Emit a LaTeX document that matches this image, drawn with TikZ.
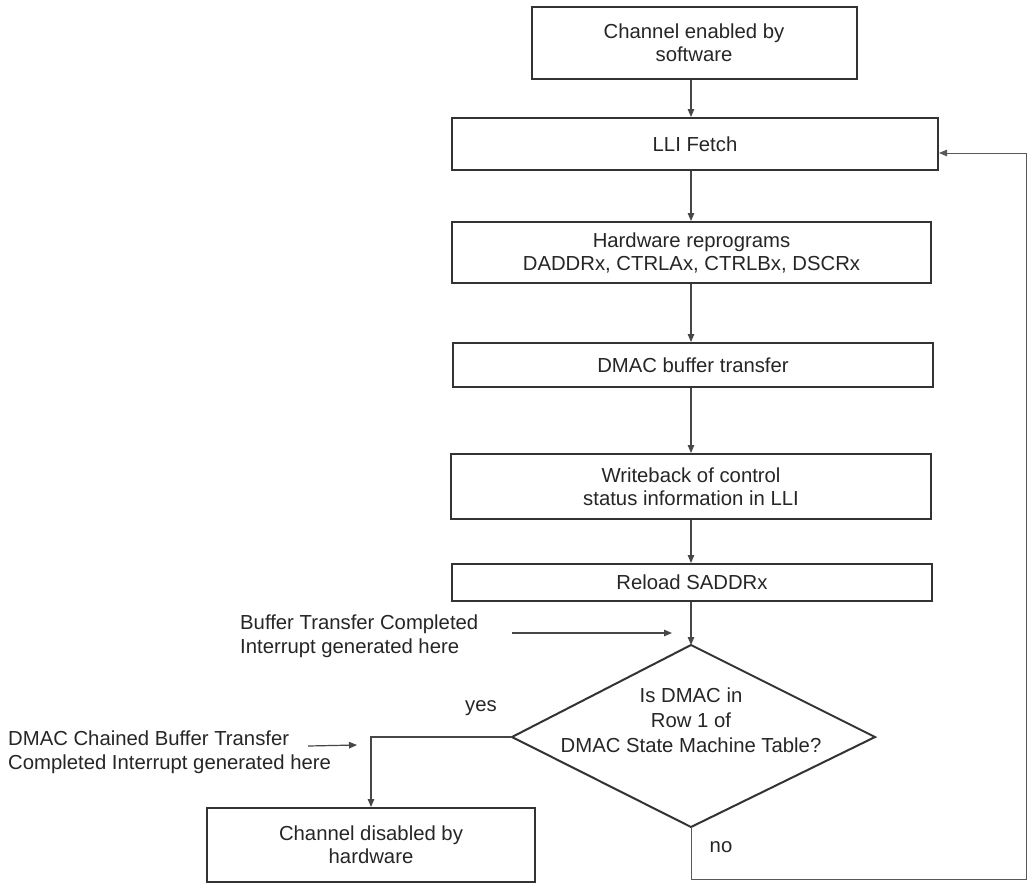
\documentclass[tikz,border=0pt]{standalone}
\usepackage{fontspec}
\setmainfont{Liberation Sans}
\usetikzlibrary{arrows.meta}
\begin{document}
\begin{tikzpicture}[x=1pt,y=-1pt,
  box/.style={draw=black!80, line width=2pt, align=center, inner sep=0pt,
    font=\fontsize{20.3}{23}\selectfont, text=black!85},
  conn/.style={draw=black!72, line width=1.2pt, -{Triangle[length=8pt,width=6.5pt]}},
  lbl/.style={font=\fontsize{20.3}{24}\selectfont, text=black!85, inner sep=0pt, align=left}]
\useasboundingbox (0,0) rectangle (1031,884);
\fill[white] (0,0) rectangle (1031,884);

\node[box, minimum width=325pt, minimum height=72pt] (b1) at (694,43) {Channel enabled by\\software};
\node[box, minimum width=486pt, minimum height=52pt] (b2) at (695,144) {LLI Fetch};
\node[box, minimum width=479pt, minimum height=61pt] (b3) at (691.5,252.5) {Hardware reprograms\\DADDRx, CTRLAx, CTRLBx, DSCRx};
\node[box, minimum width=480pt, minimum height=44pt] (b4) at (693,365) {DMAC buffer transfer};
\node[box, minimum width=480pt, minimum height=65pt] (b5) at (691,486.5) {Writeback of control\\status information in LLI};
\node[box, minimum width=480pt, minimum height=37pt] (b6) at (692,582.5) {Reload SADDRx};
\node[box, minimum width=328pt, minimum height=74pt] (b7) at (371,845) {Channel disabled by\\hardware};

% decision diamond
\coordinate (dt) at (691,645);
\coordinate (dr) at (875,737);
\coordinate (db) at (691,827);
\coordinate (dl) at (512,737);
\draw[line width=2pt, draw=black!80, line join=miter] (dt) -- (dr) -- (db) -- (dl) -- cycle;
\node[lbl, align=center, font=\fontsize{20.3}{25}\selectfont] (dq) at (691,720) {Is DMAC in\\Row 1 of\\DMAC State Machine Table?};

% main flow
\coordinate (ax) at (691,0);
\draw[conn] (b1.south -| ax) -- (b2.north -| ax);
\draw[conn] (b2.south -| ax) -- (b3.north -| ax);
\draw[conn] (b3.south -| ax) -- (b4.north -| ax);
\draw[conn] (b4.south -| ax) -- (b5.north -| ax);
\draw[conn] (b5.south -| ax) -- (b6.north -| ax);
\draw[conn] (b6.south -| ax) -- (dt);

% annotation: buffer transfer completed
\node[lbl, anchor=west] (t1) at (240,636) {Buffer Transfer Completed\\Interrupt generated here};
\coordinate (a1s) at (512,633);
\coordinate (a1e) at (672,633);
\draw[conn] (a1s) -- (a1e);

% yes branch
\node[lbl] (yes) at (481,708) {yes};
\draw[conn] (dl) -- (b7.north |- dl) -- (b7.north);

% annotation: chained
\node[lbl, anchor=west] (t2) at (8,752) {DMAC Chained Buffer Transfer\\Completed Interrupt generated here};
\coordinate (a2s) at (308,746);
\coordinate (a2e) at (357,745);
\draw[conn] (a2s) -- (a2e);

% no branch loop back
\node[lbl] (no) at (721,847) {no};
\coordinate (c1) at (691,879);
\coordinate (c2) at (1026,879);
\coordinate (c3) at (1026,153);
\draw[conn, draw=black!65, line width=1pt] (db) -- (c1) -- (c2) -- (c3) -- (b2.east |- c3);
\end{tikzpicture}
\end{document}
